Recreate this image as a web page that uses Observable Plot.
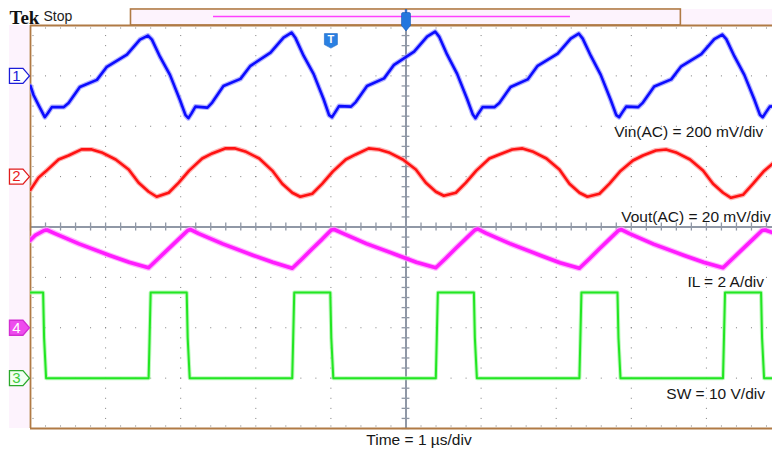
<!DOCTYPE html>
<html>
<head>
<meta charset="utf-8">
<script src="https://cdn.jsdelivr.net/npm/d3@7"></script>
<script src="https://cdn.jsdelivr.net/npm/@observablehq/plot@0.6"></script>
<style>
html,body{margin:0;padding:0;background:#fff;}
#chart svg{display:block;}
</style>
</head>
<body>
<div id="chart"></div>
<script>
// ---------------- data (time in µs, values in channel units) ----------------
const vinTime = [0, 0.04, 0.107,
  0.19, 0.23, 0.284, 0.444, 0.507, 0.657, 0.884, 1.017, 1.284, 1.457, 1.564, 1.617, 1.724, 1.857, 1.99, 2.064,
  2.102, 2.142, 2.196, 2.356, 2.419, 2.569, 2.796, 2.929, 3.196, 3.369, 3.476, 3.529, 3.636, 3.769, 3.902, 3.976,
  4.014, 4.054, 4.108, 4.268, 4.331, 4.481, 4.708, 4.841, 5.108, 5.281, 5.388, 5.441, 5.548, 5.681, 5.814, 5.888,
  5.926, 5.966, 6.02, 6.18, 6.243, 6.393, 6.62, 6.753, 7.02, 7.193, 7.3, 7.353, 7.46, 7.593, 7.726, 7.8,
  7.838, 7.878, 7.932, 8.092, 8.155, 8.305, 8.532, 8.665, 8.932, 9.105, 9.212, 9.265, 9.372, 9.505, 9.638, 9.712,
  9.75, 9.79, 9.844, 9.9];
const vinMv = [-40, -76, -116,
  -164, -148, -124, -124, -108, -44, -16, 36, 84, 144, 160, 144, 76, 4, -96, -156,
  -168, -150, -122, -126, -106, -40, -12, 40, 92, 152, 172, 150, 80, 8, -92, -156,
  -164, -146, -120, -122, -104, -40, -10, 44, 96, 156, 176, 156, 84, 8, -92, -152,
  -168, -148, -124, -124, -108, -44, -14, 40, 88, 148, 168, 148, 80, 4, -96, -156,
  -164, -146, -122, -124, -106, -42, -14, 38, 86, 146, 164, 146, 78, 4, -94, -154,
  -164, -146, -122, -120];

const voutTime = [0, 0.107,
  0.2, 0.374, 0.507, 0.68, 0.814, 0.947, 1.134, 1.307, 1.44, 1.574, 1.68, 1.84, 1.974,
  2.112, 2.286, 2.419, 2.592, 2.726, 2.859, 3.046, 3.219, 3.352, 3.486, 3.592, 3.752, 3.886,
  4.024, 4.198, 4.331, 4.504, 4.638, 4.771, 4.958, 5.131, 5.264, 5.398, 5.504, 5.664, 5.798,
  5.936, 6.11, 6.243, 6.416, 6.55, 6.683, 6.87, 7.043, 7.176, 7.31, 7.416, 7.576, 7.71,
  7.848, 8.022, 8.155, 8.328, 8.462, 8.595, 8.782, 8.955, 9.088, 9.222, 9.328, 9.488, 9.622,
  9.76, 9.9];
const voutMv = [-5.2, -0.4,
  2.0, 6.8, 8.4, 10.8, 10.8, 9.6, 6.8, 2.8, -2.4, -6.0, -8.0, -6.4, -2.4,
  2.4, 7.2, 9.2, 11.2, 11.2, 10.0, 7.2, 2.4, -2.8, -6.4, -8.0, -6.8, -2.8,
  2.0, 6.8, 8.8, 11.2, 10.8, 9.6, 6.8, 2.8, -2.4, -6.0, -7.6, -6.4, -2.4,
  2.4, 7.2, 8.8, 10.8, 11.2, 10.0, 7.2, 2.8, -2.8, -6.4, -8.0, -6.8, -2.8,
  2.0, 6.4, 8.4, 10.4, 10.8, 9.6, 6.8, 2.4, -2.8, -6.4, -8.4, -7.2, -2.8,
  2.0, 5.6];

const ilTime = [0, 0.067, 0.181, 0.221, 0.328, 0.648, 1.048, 1.314,
  1.573, 1.706, 1.84, 1.973, 2.093, 2.133, 2.24, 2.56, 2.96, 3.226,
  3.485, 3.618, 3.752, 3.885, 4.005, 4.045, 4.152, 4.472, 4.872, 5.138,
  5.397, 5.53, 5.664, 5.797, 5.917, 5.957, 6.064, 6.384, 6.784, 7.05,
  7.309, 7.442, 7.576, 7.709, 7.829, 7.869, 7.976, 8.296, 8.696, 8.962,
  9.221, 9.354, 9.488, 9.621, 9.741, 9.781, 9.9];
const ilAmp = [3.48, 3.68, 3.86, 3.88, 3.74, 3.33, 2.88, 2.6,
  2.38, 2.76, 3.14, 3.52, 3.86, 3.9, 3.74, 3.33, 2.88, 2.6,
  2.36, 2.74, 3.14, 3.52, 3.88, 3.9, 3.76, 3.34, 2.9, 2.6,
  2.38, 2.76, 3.16, 3.54, 3.88, 3.92, 3.76, 3.34, 2.88, 2.58,
  2.36, 2.74, 3.14, 3.52, 3.86, 3.9, 3.74, 3.32, 2.88, 2.6,
  2.38, 2.76, 3.14, 3.52, 3.86, 3.88, 3.76];

const swTime = [0, 0.168, 0.181, 0.208,
  1.573, 1.586, 1.6, 2.08, 2.093, 2.12,
  3.485, 3.498, 3.512, 3.992, 4.005, 4.032,
  5.397, 5.41, 5.424, 5.904, 5.917, 5.944,
  7.309, 7.322, 7.336, 7.816, 7.829, 7.856,
  9.221, 9.234, 9.248, 9.728, 9.741, 9.768,
  9.9];
const swVolt = [17, 17, 8, 0,
  0, 8, 17, 17, 8, 0,
  0, 8, 17, 17, 8, 0,
  0, 8, 17, 17, 8, 0,
  0, 8, 17, 17, 8, 0,
  0, 8, 17, 17, 8, 0,
  0];

// channels
const chNumber = ["1", "2", "4", "3"];
const chName = ["Vin(AC)", "Vout(AC)", "IL", "SW"];
const chScaleText = ["200 mV/div", "20 mV/div", "2 A/div", "10 V/div"];
const chPerDiv = [200, 20, 2, 10];
const chOffsetDiv = [3, 1, -2, -3];
const timeLabel = "Time = 1 µs/div";
const brandText = "Tek";
const stateText = "Stop";
const triggerText = "T";

// ---------------- styling / layout ----------------
const W = 772, H = 449;
const sans = "'Liberation Sans', Arial, Helvetica, sans-serif";
const traceColor = ["#0c0cff", "#ff1212", "#ff1cff", "#22e622"];
const haloColor = ["#9a9aff", "#ff9a9a", "#ff9cff", "#a6f5a6"];
const markerFill = ["#ffffff", "#ffffff", "#ee4cee", "#f2fff2"];
const markerStroke = ["#1c1cd8", "#e01c1c", "#d22ed2", "#2aa82a"];
const markerTextColor = ["#1c1cd8", "#e81c1c", "#ffffff", "#3ccc3c"];
const labelX = [9.758, 9.856, 9.767, 9.78];
const labelY = [1.882, 0.195, -1.095, -3.325];
const brown = "#b07a45";
const gridGray = "#7d7d7d";
const centerGray = "#9098a6";

function series(times, vals, ch) {
  return times.map((t, i) => ({t, y: chOffsetDiv[ch] + vals[i] / chPerDiv[ch]}));
}
const traces = [
  series(vinTime, vinMv, 0),
  series(voutTime, voutMv, 1),
  series(ilTime, ilAmp, 2),
  series(swTime, swVolt, 3)
];
const haloW = [5, 5, 6, 4];
const coreW = [2.6, 2.6, 3.6, 2];

const chRows = chNumber.map((n, i) => ({n, i, pos: chOffsetDiv[i], label: `${chName[i]} = ${chScaleText[i]}`, lx: labelX[i], ly: labelY[i]}));

// symbols
const flagSymbol = {draw(ctx) {
  ctx.moveTo(-10, -7.5); ctx.lineTo(3.5, -7.5); ctx.lineTo(10, 0); ctx.lineTo(3.5, 7.5); ctx.lineTo(-10, 7.5); ctx.closePath();
}};
const pinSymbol = {draw(ctx) {
  ctx.moveTo(-0.8, -16); ctx.lineTo(0.8, -16); ctx.lineTo(0.8, -13); ctx.lineTo(-0.8, -13); ctx.closePath();
  ctx.moveTo(-3, -13); ctx.lineTo(3, -13); ctx.quadraticCurveTo(4.5, -13, 4.5, -11.5);
  ctx.lineTo(4.5, 0); ctx.lineTo(0, 5.5); ctx.lineTo(-4.5, 0); ctx.lineTo(-4.5, -11.5);
  ctx.quadraticCurveTo(-4.5, -13, -3, -13); ctx.closePath();
}};
const shieldSymbol = {draw(ctx) {
  ctx.moveTo(-6.5, -7); ctx.lineTo(6.5, -7); ctx.lineTo(6.5, 4); ctx.lineTo(0, 7.5); ctx.lineTo(-6.5, 4); ctx.closePath();
}};

// grid positions (divisions)
const majorX = [1, 2, 3, 4, 6, 7, 8, 9];
const majorY = [-3, -2, -1, 1, 2, 3];
const minorX = d3.range(0, 10.01, 0.2).map(v => +v.toFixed(2));
const minorY = d3.range(-4, 4.01, 0.2).map(v => +v.toFixed(2));

const marks = [
  // chrome backgrounds
  Plot.rect([0], {x1: -0.28, x2: -0.01, y1: -4, y2: 4, fill: "#fdf3fd"}),
  Plot.rect([0], {x1: 1.338, x2: 10.5, y1: 4, y2: 4.318, fill: "#fdf3fd"}),
  Plot.rect([0], {x1: 1.338, x2: 8.66, y1: 4, y2: 4.318, fill: "none", stroke: brown, strokeWidth: 1.6}),
  Plot.ruleY([4.179], {x1: 2.437, x2: 7.19, stroke: "#ff40ff", strokeWidth: 1.5}),
  // dotted grid
  Plot.ruleX(majorX, {stroke: gridGray, strokeWidth: 1, strokeDasharray: "1,9.075"}),
  Plot.ruleY(majorY, {stroke: gridGray, strokeWidth: 1, strokeDasharray: "1,14.02"}),
  // edge minor ticks
  Plot.ruleY([4], {dy: 2.5, stroke: gridGray, strokeDasharray: "1,14.02"}),
  Plot.ruleY([-4], {dy: -2.5, stroke: gridGray, strokeDasharray: "1,14.02"}),
  Plot.ruleX([0], {dx: 2.5, stroke: gridGray, strokeDasharray: "1,9.075"}),
  // centre lines with ticks
  Plot.ruleX([5], {stroke: centerGray, strokeWidth: 2}),
  Plot.ruleY([0], {stroke: centerGray, strokeWidth: 2}),
  Plot.ruleY(minorY, {x1: 4.948, x2: 5.052, stroke: centerGray, strokeWidth: 1.3}),
  Plot.ruleX(minorX, {y1: -0.08, y2: 0.08, stroke: centerGray, strokeWidth: 1.3}),
  // frame
  Plot.ruleX([0], {stroke: brown, strokeWidth: 1.8}),
  Plot.ruleY([4], {stroke: brown, strokeWidth: 1.8}),
  Plot.ruleY([-4], {stroke: brown, strokeWidth: 1.8}),
];
// traces
traces.forEach((data, i) => {
  marks.push(Plot.line(data, {x: "t", y: "y", stroke: haloColor[i], strokeWidth: haloW[i], strokeOpacity: 0.75, clip: true, curve: "linear"}));
  marks.push(Plot.line(data, {x: "t", y: "y", stroke: traceColor[i], strokeWidth: coreW[i], clip: true, curve: "linear"}));
});
marks.push(
  // channel labels
  Plot.text(chRows, {x: "lx", y: "ly", text: "label", textAnchor: "end", fontSize: 15.5, fontFamily: sans, fill: "#161616"}),
  Plot.text([timeLabel], {x: 5.173, y: -4.238, text: d => d, fontSize: 15.5, fontFamily: sans, fill: "#161616"}),
  // header
  Plot.text([brandText], {x: -0.28, y: 4.155, text: d => d, textAnchor: "start", fontSize: 19, fontWeight: "bold", fontFamily: "'Liberation Serif', 'Times New Roman', serif", fill: "#111"}),
  Plot.text([stateText], {x: 0.173, y: 4.17, text: d => d, textAnchor: "start", fontSize: 14, fontFamily: sans, fill: "#222"}),
  // channel ground markers
  Plot.dot(chRows, {x: -0.147, y: "pos", symbol: flagSymbol, fill: d => markerFill[d.i], stroke: d => markerStroke[d.i], strokeWidth: 1.3}),
  Plot.text(chRows, {x: -0.187, y: "pos", text: "n", fontSize: 15, fontFamily: sans, fill: d => markerTextColor[d.i]}),
  // trigger position pin and trigger marker
  Plot.dot([5], {x: d => d, y: 4, symbol: pinSymbol, fill: "#2376de", stroke: "#1659b8", strokeWidth: 0.6}),
  Plot.dot([4], {x: d => d, y: 3.70, symbol: shieldSymbol, fill: "#2a80e2", stroke: "#1b66c4", strokeWidth: 0.6}),
  Plot.text([triggerText], {x: 4, y: 3.72, text: d => d, fontSize: 11, fontWeight: "bold", fontFamily: sans, fill: "#ffffff"})
);

const chart = Plot.plot({
  width: W,
  height: H,
  marginLeft: 30,
  marginRight: 0,
  marginTop: 25,
  marginBottom: 21,
  style: {background: "#ffffff", fontFamily: sans, overflow: "visible"},
  x: {domain: [0, 10], range: [30, 781], axis: null},
  y: {domain: [-4, 4], axis: null},
  marks
});
document.getElementById("chart").appendChild(chart);
</script>
</body>
</html>
